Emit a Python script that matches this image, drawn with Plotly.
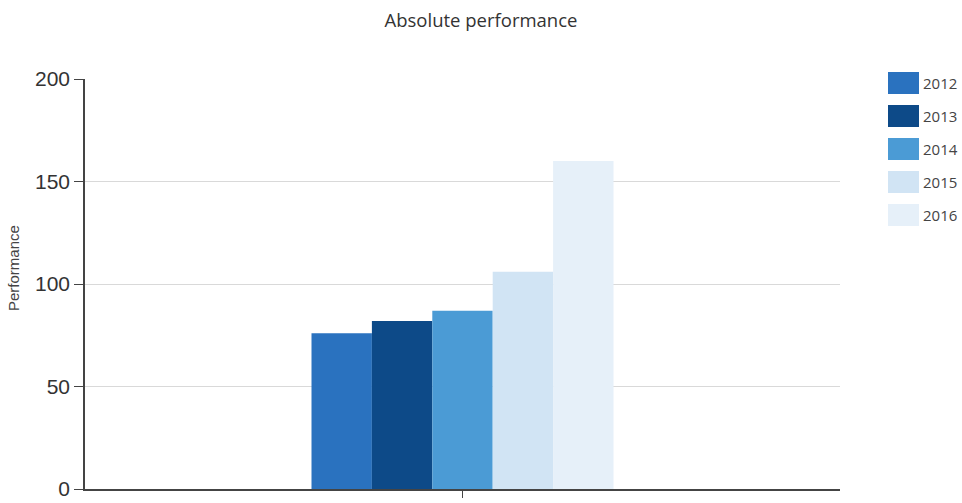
import plotly.graph_objects as go

# Absolute performance per year, single category grouped bars
years = ["2012", "2013", "2014", "2015", "2016"]
performance = [76, 82, 87, 106, 160]
colors = ["#2a72bf", "#0d4a88", "#4b9bd5", "#d1e4f4", "#e6f0f9"]
category = [""]

W, H = 962, 503
L, R, T, B = 85, 122, 79, 14
plot_w, plot_h = W - L - R, H - T - B

SANS = "Open Sans, Liberation Sans, sans-serif"

fig = go.Figure()

for yr, val, col in zip(years, performance, colors):
    fig.add_trace(go.Bar(
        x=category, y=[val], name=yr,
        marker=dict(color=col, line=dict(width=0)),
        showlegend=False,
    ))

# hand-placed legend with large square swatches
def px_x(p):
    return (p - L) / plot_w

def px_y(p):
    return (H - B - p) / plot_h

for i, (yr, col) in enumerate(zip(years, colors)):
    top = 72 + 33 * i
    fig.add_shape(type="rect", xref="paper", yref="paper",
                  x0=px_x(888), x1=px_x(919), y0=px_y(top + 22), y1=px_y(top),
                  fillcolor=col, line=dict(width=0))
    fig.add_annotation(text=yr, xref="paper", yref="paper",
                       x=px_x(921), y=px_y(top + 11), xanchor="left", yanchor="middle",
                       showarrow=False,
                       font=dict(family=SANS, size=15, color="#444"))

fig.add_annotation(text="Performance", xref="paper", yref="paper",
                   x=px_x(13), y=px_y(268), xanchor="center", yanchor="middle",
                   textangle=-90, showarrow=False,
                   font=dict(family="Liberation Sans, Arial", size=15, color="#444"))

fig.update_layout(
    width=W, height=H,
    paper_bgcolor="white", plot_bgcolor="white",
    margin=dict(l=L, r=R, t=T, b=B, autoexpand=False),
    barmode="group", bargap=0.6, bargroupgap=0,
    showlegend=False,
    title=dict(text="Absolute performance", x=0.5, xanchor="center",
               y=1 - 21 / H, yanchor="middle",
               font=dict(family=SANS, size=18.5, color="#333")),
    xaxis=dict(showline=True, linecolor="#444", linewidth=1.5,
               ticks="outside", ticklen=7, tickcolor="#444",
               showgrid=False, showticklabels=False, automargin=False),
    yaxis=dict(range=[0, 200], tickvals=[0, 50, 100, 150, 200],
               showline=True, linecolor="#444", linewidth=1.5,
               ticks="outside", ticklen=9, tickcolor="#444",
               showgrid=True, gridcolor="#d9d9d9", gridwidth=1.2,
               zeroline=False, automargin=False,
               tickfont=dict(family="Liberation Sans, Arial", size=21, color="#333")),
)

fig.write_html("out.html")
